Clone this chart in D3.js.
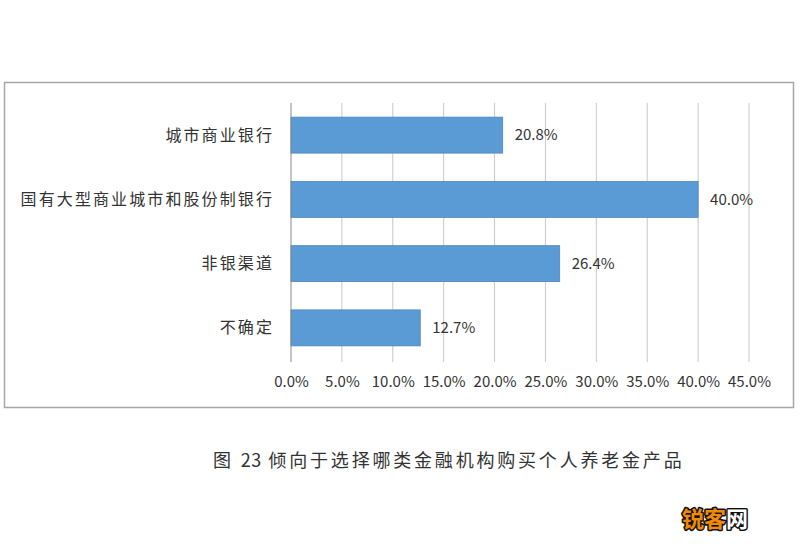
<!DOCTYPE html>
<html><head><meta charset="utf-8">
<script src="https://cdn.jsdelivr.net/npm/d3@7"></script>
<style>body{margin:0;background:#fff}svg{display:block}</style>
</head><body><svg id="c" width="800" height="550"></svg>
<script>
const categories = ["城市商业银行", "国有大型商业城市和股份制银行", "非银渠道", "不确定"];
const values = [20.8, 40.0, 26.4, 12.7];
const tickValues = [0, 5, 10, 15, 20, 25, 30, 35, 40, 45];
const captionParts = ["图 ", "23", " 倾向于选择哪类金融机构购买个人养老金产品"];
const watermark = ["锐客", "网"];

const svg = d3.select("#c");
const font = "'Noto Sans CJK SC','Noto Sans',sans-serif";

svg.append("rect").attr("x", 4.5).attr("y", 82.5).attr("width", 789).attr("height", 325)
  .attr("fill", "#fff").attr("stroke", "#a6a6a6").attr("stroke-width", 1.5);

const x = d3.scaleLinear().domain([0, 45]).range([291, 749]);
const y = d3.scaleBand().domain(categories).range([103, 360]).paddingInner(0.44).paddingOuter(0.22);

// gridlines
svg.append("g").selectAll("line").data(tickValues.slice(1)).join("line")
  .attr("x1", d => x(d)).attr("x2", d => x(d)).attr("y1", 103).attr("y2", 362)
  .attr("stroke", "#c8c8c8").attr("stroke-width", 1);

// bars
svg.append("g").selectAll("rect").data(values).join("rect")
  .attr("x", x(0)).attr("y", (d, i) => y(categories[i]))
  .attr("width", d => x(d) - x(0)).attr("height", y.bandwidth())
  .attr("fill", "#5b9bd5").attr("stroke", "#4a86c0").attr("stroke-width", 0.8);

// axis line
svg.append("line").attr("x1", x(0)).attr("x2", x(0)).attr("y1", 103).attr("y2", 362)
  .attr("stroke", "#888").attr("stroke-width", 1);

// x axis
const xa = svg.append("g").attr("transform", "translate(0,362)")
  .call(d3.axisBottom(x).tickValues(tickValues).tickSize(0).tickPadding(14).tickFormat(d => d.toFixed(1) + "%"));
xa.select(".domain").remove();
xa.selectAll("text").attr("font-family", font).attr("font-size", 15).attr("fill", "#333");

// y labels
svg.append("g").selectAll("text").data(categories).join("text")
  .attr("x", 274).attr("y", d => y(d) + y.bandwidth() / 2).attr("dy", "0.35em")
  .attr("text-anchor", "end").attr("font-family", font).attr("font-size", 16).attr("letter-spacing", 2.1)
  .attr("fill", "#333")
  .text(d => d);

// value labels
svg.append("g").selectAll("text").data(values).join("text")
  .attr("x", d => x(d) + 12).attr("y", (d, i) => y(categories[i]) + y.bandwidth() / 2).attr("dy", "0.35em")
  .attr("font-family", font).attr("font-size", 15).attr("fill", "#333")
  .text(d => d.toFixed(1) + "%");

// caption
const cap = svg.append("text").attr("x", 213).attr("y", 461).attr("dy", "0.35em")
  .attr("font-family", font).attr("font-size", 18).attr("fill", "#333").attr("xml:space", "preserve");
cap.selectAll("tspan").data(captionParts).join("tspan")
  .attr("letter-spacing", (d, i) => i === 1 ? 0.5 : 2.8)
  .text(d => d);

// watermark
const wm = svg.append("text").attr("x", 682).attr("y", 527)
  .attr("font-family", font).attr("font-size", 22).attr("font-weight", "bold")
  .attr("stroke", "#111").attr("stroke-width", 3).attr("paint-order", "stroke").attr("stroke-linejoin", "round");
wm.append("tspan").attr("fill", "#f08a00").text(watermark[0]);
wm.append("tspan").attr("fill", "#fff").text(watermark[1]);
</script></body></html>
